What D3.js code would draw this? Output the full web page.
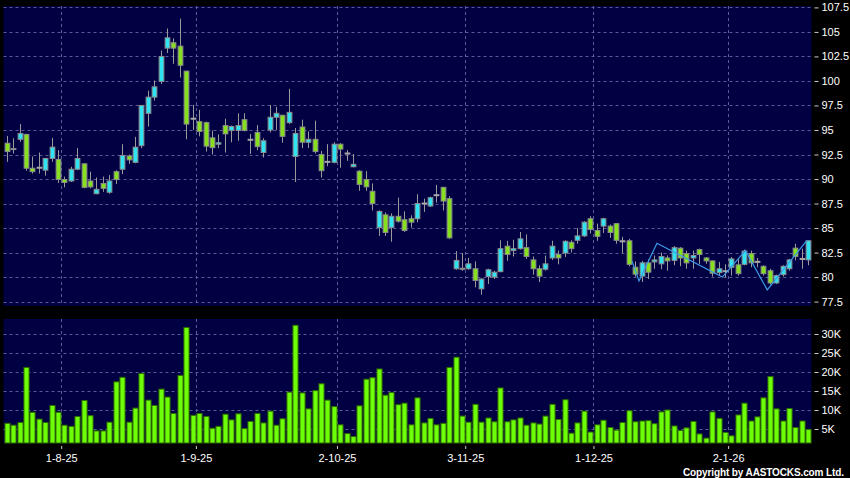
<!DOCTYPE html>
<html>
<head>
<meta charset="utf-8">
<script src="https://cdn.jsdelivr.net/npm/d3@7"></script>
<style>
  body { margin: 0; background: #000; }
  svg { display: block; font-family: Arial, "Liberation Sans", sans-serif; }
  .grid line { stroke: #5a5a96; stroke-width: 1; stroke-dasharray: 3,3; }
  .axis text { fill: #fff; font-size: 11px; }
  .axis line { stroke: #ccc; }
</style>
</head>
<body>
<div id="chart"></div>
<script>
// Daily prices, one entry per trading day (oldest first)
const openPx = [93.65,93.0,94.05,94.55,91.1,91.15,90.9,92.1,92.0,89.95,89.8,91.0,91.55,89.8,88.5,89.55,88.65,90.75,91.0,92.35,
  91.7,93.4,96.7,98.35,99.95,103.35,103.9,103.55,101.0,96.15,95.85,95.75,94.2,93.55,95.45,94.95,94.95,96.05,94.0,94.75,
  92.7,95.0,96.3,96.5,95.75,92.3,95.3,93.75,94.05,92.5,91.75,91.7,93.55,92.6,91.25,90.8,89.95,88.75,85.05,86.35,
  85.05,86.2,85.85,85.95,85.95,87.5,87.25,88.35,89.15,88.0,80.85,80.8,80.85,80.85,78.8,80.05,80.0,80.55,83.15,82.7,
  82.9,83.0,81.75,80.85,80.8,81.95,82.3,82.45,83.55,83.75,84.2,85.95,84.75,85.2,85.2,85.45,83.65,83.7,81.0,80.1,
  81.45,81.55,81.35,81.95,81.7,82.95,82.4,81.95,82.8,81.95,81.65,80.45,80.6,81.0,81.25,81.3,82.4,81.55,81.1,80.65,
  79.4,80.25,80.85,82.95,81.85,81.75];
const highPx = [94.4,94.15,95.6,94.6,92.3,92.7,92.15,94.2,92.95,90.25,91.25,93.15,91.6,90.75,90.15,90.25,90.4,90.9,93.55,92.5,
  94.3,97.55,99.0,100.05,103.1,105.35,104.35,106.35,101.05,97.55,97.05,95.85,94.95,94.55,96.15,95.45,96.7,96.7,94.6,95.5,
  94.15,97.55,97.35,96.55,99.2,95.2,96.05,94.85,95.95,92.85,93.55,93.75,93.65,92.95,92.55,90.9,90.8,89.55,86.8,86.6,
  86.5,88.1,86.7,86.3,88.45,88.0,88.2,89.4,89.2,88.25,82.65,82.45,81.95,81.6,79.9,80.85,80.65,83.75,83.7,83.8,
  84.6,84.35,82.1,81.2,82.2,83.7,82.7,83.75,83.75,85.0,85.7,86.2,85.45,86.05,85.35,85.5,84.1,83.9,81.6,81.65,
  81.8,82.2,82.5,82.2,83.15,83.05,82.7,82.7,82.9,82.05,81.7,81.55,81.3,82.05,81.85,82.8,82.7,81.95,81.2,80.85,
  80.25,81.2,81.85,83.4,82.9,83.75];
const lowPx = [91.75,92.6,93.8,90.85,90.55,90.55,90.35,91.75,89.6,89.15,89.7,90.9,89.05,89.05,88.45,88.7,88.5,89.5,90.5,91.55,
  91.6,93.15,95.35,98.0,99.7,102.85,101.75,100.35,94.05,95.0,94.35,92.8,92.5,93.15,92.7,93.75,93.9,94.85,92.55,92.95,
  92.2,94.75,95.0,93.7,95.6,89.7,93.15,93.15,92.6,90.15,91.3,91.6,91.15,91.85,91.2,88.8,88.8,86.8,84.2,84.2,
  83.6,85.55,84.6,85.05,85.6,86.65,87.15,87.6,86.8,83.9,80.75,80.65,80.75,78.95,78.2,79.3,79.8,80.5,81.65,82.1,
  82.8,81.85,80.25,79.5,80.65,81.75,81.3,82.05,82.5,83.4,84.1,84.45,83.7,84.5,84.0,83.4,82.45,81.1,80.05,79.5,
  79.8,80.85,80.8,80.65,81.2,81.1,80.85,80.85,81.35,81.35,80.05,80.15,80.0,80.15,80.15,81.2,81.0,81.0,80.15,79.25,
  79.3,80.05,80.65,81.7,80.85,81.2];
const closePx = [92.8,93.1,94.65,91.1,90.75,91.15,92.1,93.25,89.95,89.65,91.0,92.1,89.15,89.2,88.95,89.05,89.8,89.95,92.4,91.95,
  93.25,97.5,98.35,99.4,102.5,104.4,103.35,101.6,95.6,96.15,94.85,93.35,93.2,93.7,94.6,95.35,95.45,94.95,94.0,93.3,
  93.9,96.3,96.7,94.35,96.8,94.65,93.75,94.05,92.8,90.85,91.75,93.55,93.05,92.6,91.5,89.45,89.2,87.5,86.7,84.55,
  86.2,85.7,84.75,85.6,87.5,87.5,88.1,88.35,87.75,84.0,81.7,80.9,81.35,79.65,79.8,80.75,80.5,82.9,82.3,82.9,
  83.9,82.1,80.85,80.1,81.35,83.15,81.95,83.65,82.9,84.2,85.6,84.85,84.15,85.95,84.55,83.75,83.65,81.3,80.3,81.45,
  80.5,81.75,82.1,81.65,83.0,81.95,81.45,82.2,82.3,81.65,80.4,80.85,80.6,81.85,80.35,82.65,81.45,81.55,80.35,79.4,
  80.15,81.1,81.75,82.1,81.85,83.7];

// Daily turnover volume, in thousands
const volumeK = [6.5,6.0,6.7,21.2,9.4,7.6,6.7,11.2,9.4,6.0,5.7,8.3,12.5,8.5,4.5,4.5,6.8,17.4,18.6,6.8,
  10.5,19.6,12.6,11.2,15.5,13.4,9.1,19.1,31.7,8.6,9.1,8.3,5.2,5.7,8.9,7.4,9.0,5.1,7.0,9.1,
  6.6,9.7,6.0,7.7,14.7,32.3,14.5,10.3,15.1,16.9,12.6,10.9,6.1,3.8,3.0,11.1,18.1,18.5,20.8,13.9,
  14.6,11.4,11.8,6.1,13.2,6.6,7.8,6.1,6.5,21.2,23.9,8.4,6.8,11.5,6.8,7.9,6.9,15.8,6.9,7.4,
  7.9,6.0,6.6,6.3,8.4,11.5,7.5,12.7,3.9,6.6,9.7,4.2,6.1,7.3,5.4,4.7,6.7,9.8,6.9,7.1,
  7.2,6.4,9.5,10.0,5.8,4.6,5.3,7.0,3.7,2.6,9.5,7.8,4.1,3.2,8.7,11.8,7.1,8.2,13.2,18.8,
  10.3,7.1,10.4,5.4,7.1,4.9];

// Overlay line (bar position, price)
const overlayBar = [97.5,98.6,101.4,111.6,115.2,118.6,124.8];
const overlayPx = [81.65,79.6,83.45,80.0,82.7,78.7,83.75];

// Axis ticks
const priceTicks = [107.5,105,102.5,100,97.5,95,92.5,90,87.5,85,82.5,80,77.5];
const volumeTicks = [5,10,15,20,25,30];
const dateTickBars = [8,29,51,71,91,112];
const dateTickLabels = ["1-8-25","1-9-25","2-10-25","3-11-25","1-12-25","2-1-26"];

const W = 850, H = 478;
const plotLeft = 3.5, plotRight = 811.5;
const pricePanel = { top: 6, bottom: 306 };
const volPanel = { top: 319, bottom: 443 };

const svg = d3.select("#chart").append("svg")
  .attr("width", W).attr("height", H);

svg.append("rect").attr("width", W).attr("height", H).attr("fill", "#000");

// Scales
const n = openPx.length;
const x = d3.scaleLinear().domain([-0.5, n - 0.5]).range([plotLeft, plotRight]);
const step = x(1) - x(0);
const y = d3.scaleLinear().domain([77.5, 107.5]).range([301.6, 7.4]);
const yv = d3.scaleLinear().domain([0, 30]).range([448, 334]);

// Panel backgrounds
[pricePanel, volPanel].forEach(p => {
  svg.append("rect")
    .attr("x", plotLeft).attr("y", p.top)
    .attr("width", plotRight - plotLeft).attr("height", p.bottom - p.top)
    .attr("fill", "#000042");
});

// Horizontal gridlines
const grid = svg.append("g").attr("class", "grid");
grid.selectAll(".hp").data(priceTicks).enter().append("line")
  .attr("x1", plotLeft).attr("x2", plotRight)
  .attr("y1", d => Math.round(y(d)) + 0.5).attr("y2", d => Math.round(y(d)) + 0.5);
grid.selectAll(".hv").data(volumeTicks).enter().append("line")
  .attr("x1", plotLeft).attr("x2", plotRight)
  .attr("y1", d => Math.round(yv(d)) + 0.5).attr("y2", d => Math.round(yv(d)) + 0.5);

// Vertical gridlines at the month ticks
[pricePanel, volPanel].forEach(p => {
  grid.append("g").selectAll("line").data(dateTickBars).enter().append("line")
    .attr("x1", d => Math.round(x(d + 0.5)) + 0.5).attr("x2", d => Math.round(x(d + 0.5)) + 0.5)
    .attr("y1", p.top).attr("y2", p.bottom);
});

// Candlesticks
const bodyW = step * 0.74;
const candles = svg.append("g").selectAll("g").data(d3.range(n)).enter().append("g");

candles.append("line")
  .attr("x1", i => Math.round(x(i)) + 0.5).attr("x2", i => Math.round(x(i)) + 0.5)
  .attr("y1", i => y(highPx[i])).attr("y2", i => y(lowPx[i]))
  .attr("stroke", "#9a9a9a").attr("stroke-width", 1);

candles.filter(i => openPx[i] !== closePx[i]).append("rect")
  .attr("x", i => Math.round(x(i)) + 0.5 - bodyW / 2)
  .attr("width", bodyW)
  .attr("y", i => y(Math.max(openPx[i], closePx[i])))
  .attr("height", i => Math.max(1, Math.abs(y(openPx[i]) - y(closePx[i]))))
  .attr("fill", i => closePx[i] > openPx[i] ? "#2fe3f3" : "#86e01e")
  .attr("stroke", "#8c8c8c").attr("stroke-width", 1);

// Doji drawn as a flat grey bar
candles.filter(i => openPx[i] === closePx[i]).append("rect")
  .attr("x", i => Math.round(x(i)) + 0.5 - bodyW / 2 - 0.5)
  .attr("width", bodyW + 1)
  .attr("y", i => y(openPx[i]) - 1)
  .attr("height", 2)
  .attr("fill", "#a8a8a8");

// Overlay line
svg.append("path")
  .datum(d3.range(overlayBar.length))
  .attr("fill", "none")
  .attr("stroke", "#3d9be6")
  .attr("stroke-width", 1.2)
  .attr("d", d3.line().x(i => x(overlayBar[i])).y(i => y(overlayPx[i])));

// Volume bars
const volW = step * 0.8;
svg.append("g").selectAll("rect").data(d3.range(n)).enter().append("rect")
  .attr("x", i => Math.round(x(i)) + 0.5 - volW / 2)
  .attr("width", volW)
  .attr("y", i => yv(volumeK[i]))
  .attr("height", i => volPanel.bottom - yv(volumeK[i]))
  .attr("fill", "#6cff08")
  .attr("stroke", "#2f6a00").attr("stroke-width", 1);

// Right axes
const priceAxis = svg.append("g").attr("class", "axis")
  .attr("transform", `translate(${plotRight + 3},0)`)
  .call(d3.axisRight(y).tickValues(priceTicks).tickSize(4).tickPadding(3).tickFormat(d => d));
priceAxis.select(".domain").remove();

const volAxis = svg.append("g").attr("class", "axis")
  .attr("transform", `translate(${plotRight + 3},0)`)
  .call(d3.axisRight(yv).tickValues(volumeTicks).tickSize(4).tickPadding(3).tickFormat(d => d + "K"));
volAxis.select(".domain").remove();

// Date axis
const dateAxis = svg.append("g").attr("class", "axis")
  .attr("transform", `translate(0,${volPanel.bottom + 3})`)
  .call(d3.axisBottom(x)
    .tickValues(dateTickBars.map(b => b + 0.5))
    .tickSize(3).tickPadding(5)
    .tickFormat((d, i) => dateTickLabels[i]));
dateAxis.select(".domain").remove();

// Copyright note
svg.append("text")
  .attr("x", 844).attr("y", 476)
  .attr("text-anchor", "end")
  .attr("fill", "#fff")
  .attr("font-size", "10px")
  .attr("font-weight", "bold")
  .attr("textLength", 161).attr("lengthAdjust", "spacing")
  .text("Copyright by AASTOCKS.com Ltd.");
</script>
</body>
</html>
